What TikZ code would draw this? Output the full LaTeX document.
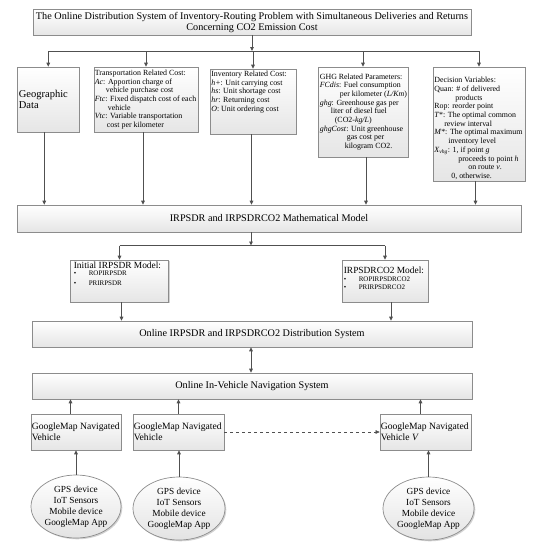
\documentclass[tikz,border=0pt]{standalone}
\usepackage{fontspec}
\setmainfont{Liberation Serif}
\usetikzlibrary{arrows.meta,shadows,shapes.geometric,calc}
\definecolor{linec}{HTML}{505050}
\definecolor{boxd}{HTML}{8C8C8C}
\tikzset{
  box/.style={rectangle, draw=boxd, line width=0.7pt, top color=white, bottom color=gray!20,
    drop shadow={shadow xshift=1.3pt, shadow yshift=-1.3pt, opacity=0.35}, inner sep=0pt},
  ellbox/.style={ellipse, draw=boxd, line width=0.7pt, top color=white, bottom color=gray!22,
    drop shadow={shadow xshift=1.3pt, shadow yshift=-1.3pt, opacity=0.35}, inner sep=0pt},
  conn/.style={draw=linec, line width=0.9pt},
  arr/.style={conn, -{Triangle[length=4pt,width=3.6pt]}},
  darr/.style={conn, {Triangle[length=4pt,width=3.6pt]}-{Triangle[length=4pt,width=3.6pt]}},
  dasharr/.style={draw=linec, line width=0.5pt, dashed, -{Triangle[length=4pt,width=3.6pt]}},
  txt/.style={inner sep=0pt, align=left, font=\fontsize{7.9}{8.7}\selectfont},
  bigtxt/.style={inner sep=0pt, align=center, font=\fontsize{10.2}{11.2}\selectfont},
  subttl/.style={inner sep=0pt, align=left, font=\fontsize{9.4}{11}\selectfont},
}
\begin{document}
\begin{tikzpicture}[x=1pt,y=-1pt]
\fill[white] (0,0) rectangle (534,550);
\useasboundingbox (0,0) rectangle (534,550);

% title
\node[box, bigtxt, minimum width=438pt, minimum height=25.5pt] (title) at (252,22.25)
  {The Online Distribution System of Inventory-Routing Problem with Simultaneous Deliveries and Returns\\Concerning CO2 Emission Cost};

% top row boxes
\node[box, minimum width=61.5pt, minimum height=65pt] (geo) at (48.25,99.5) {};
\node[box, minimum width=104pt, minimum height=65pt] (trans) at (146,99.5) {};
\node[box, minimum width=86pt, minimum height=65pt] (inv) at (253,101.5) {};
\node[box, minimum width=90pt, minimum height=90pt] (ghg) at (363,112) {};
\node[box, minimum width=92pt, minimum height=114pt] (dec) at (479,124) {};

\node[txt, anchor=west, font=\fontsize{10.5}{10.8}\selectfont] (geo-t) at ($(geo.west)+(1.5,0)$) {Geographic\\Data};

\node[txt, anchor=west] (trans-t) at ($(trans.west)+(1,0)$)
  {Transportation Related Cost:\\
   \textit{Ac}: Apportion charge of\\
   \hspace*{11pt}vehicle purchase cost\\
   \textit{Ftc}: Fixed dispatch cost of each\\
   \hspace*{13pt}vehicle\\
   \textit{Vtc}: Variable transportation\\
   \hspace*{12pt}cost per kilometer};

\node[txt, anchor=north west] (inv-t) at ($(inv.north west)+(1.5,2)$)
  {Inventory Related Cost:\\
   \textit{h+}: Unit carrying cost\\
   \textit{hs}: Unit shortage cost\\
   \textit{hr}: Returning cost\\
   \textit{O}: Unit ordering cost};

\node[txt, anchor=west] (ghg-t) at ($(ghg.west)+(2,0)$)
  {GHG Related Parameters:\\
   \textit{FCdis}: Fuel consumption\\
   \hspace*{20pt}per kilometer (\textit{L/Km})\\
   \textit{ghg}: Greenhouse gas per\\
   \hspace*{11pt}liter of diesel fuel\\
   \hspace*{15pt}(CO2-\textit{kg/L})\\
   \textit{ghgCost}: Unit greenhouse\\
   \hspace*{27pt}gas cost per\\
   \hspace*{25pt}kilogram CO2.};

\node[txt, anchor=west] (dec-t) at ($(dec.west)+(1.5,4.5)$)
  {Decision Variables:\\
   Quan: \# of delivered\\
   \hspace*{21pt}products\\
   Rop: reorder point\\
   \textit{T}*: The optimal common\\
   \hspace*{10pt}review interval\\
   \textit{M}*: The optimal maximum\\
   \hspace*{14pt}inventory level\\
   \textit{X}\textsubscript{\textit{vhg}}: 1, if point \textit{g}\\
   \hspace*{24pt}proceeds to point \textit{h}\\
   \hspace*{34pt}on route \textit{v}.\\
   \hspace*{17pt}0, otherwise.};

% model
\node[box, bigtxt, minimum width=504pt, minimum height=27pt] (model) at (269,218.5)
  {IRPSDR and IRPSDRCO2 Mathematical Model};

% model variants
\node[box, minimum width=98pt, minimum height=42pt] (init) at (119.5,281) {};
\node[box, minimum width=86pt, minimum height=42pt] (co2) at (385,281) {};
\node[subttl, anchor=north west] (init-t) at ($(init.north west)+(3.5,1.8)$) {Initial IRPSDR Model:};
\node[txt, anchor=north west, font=\fontsize{7}{9.8}\selectfont] (init-i) at ($(init-t.south west)+(0,2)$)
  {\textbullet\hspace{12.5pt}ROPIRPSDR\\ \textbullet\hspace{12.5pt}PRIRPSDR};
\node[subttl, anchor=north west] (co2-t) at ($(co2.north west)+(2,7.5)$) {IRPSDRCO2 Model:};
\node[txt, anchor=north west, font=\fontsize{7}{8.6}\selectfont] (co2-i) at ($(co2-t.south west)+(0,2)$)
  {\textbullet\hspace{12.5pt}ROPIRPSDRCO2\\ \textbullet\hspace{12.5pt}PRIRPSDRCO2};

% systems
\node[box, bigtxt, minimum width=440pt, minimum height=26pt] (dist) at (252,334)
  {Online IRPSDR and IRPSDRCO2 Distribution System};
\node[box, bigtxt, minimum width=440pt, minimum height=26pt] (nav) at (252,386)
  {Online In-Vehicle Navigation System};

% vehicles
\node[box, minimum width=90pt, minimum height=36pt] (v1) at (76,432) {};
\node[box, minimum width=91pt, minimum height=36pt] (v2) at (178.5,432) {};
\node[box, minimum width=91pt, minimum height=36pt] (v3) at (425.5,432) {};
\node[txt, anchor=west, font=\fontsize{9.6}{11.3}\selectfont] (v1-t) at ($(v1.west)+(1,0)$) {GoogleMap Navigated\\Vehicle};
\node[txt, anchor=west, font=\fontsize{9.6}{11.3}\selectfont] (v2-t) at ($(v2.west)+(1,0)$) {GoogleMap Navigated\\Vehicle};
\node[txt, anchor=west, font=\fontsize{9.6}{11.3}\selectfont] (v3-t) at ($(v3.west)+(1,0)$) {GoogleMap Navigated\\Vehicle \textit{V}};

% devices
\node[ellbox, minimum width=90pt, minimum height=63pt] (e1) at (76,506.5) {};
\node[ellbox, minimum width=92pt, minimum height=63pt] (e2) at (179,508.5) {};
\node[ellbox, minimum width=91pt, minimum height=63pt] (e3) at (428.5,508.5) {};
\node[inner sep=0pt, align=center, font=\fontsize{9.3}{11}\selectfont] (e1-t) at (e1.center) {GPS device\\IoT Sensors\\Mobile device\\GoogleMap App};
\node[inner sep=0pt, align=center, font=\fontsize{9.3}{11}\selectfont] (e2-t) at (e2.center) {GPS device\\IoT Sensors\\Mobile device\\GoogleMap App};
\node[inner sep=0pt, align=center, font=\fontsize{9.3}{11}\selectfont] (e3-t) at (e3.center) {GPS device\\IoT Sensors\\Mobile device\\GoogleMap App};

% connectors: title to top row
\coordinate (bus) at (252,51);
\draw[arr] (title.south) -- (bus);
\draw[conn] (geo.north |- bus) -- (dec.north |- bus);
\draw[arr] (geo.north |- bus) -- (geo.north);
\draw[arr] (trans.north |- bus) -- (trans.north);
\draw[arr] (inv.north |- bus) -- (inv.north);
\draw[arr] (ghg.north |- bus) -- (ghg.north);
\draw[arr] (dec.north |- bus) -- (dec.north);

% top row to model
\draw[arr] ($(geo.south)+(-4,0)$) -- ($(geo.south |- model.north)+(-4,0)$);
\draw[arr] ($(trans.south)+(-3,0)$) -- ($(trans.south |- model.north)+(-3,0)$);
\draw[arr] ($(inv.south)+(-1.5,0)$) -- ($(inv.south |- model.north)+(-1.5,0)$);
\draw[arr] ($(ghg.south)+(3,0)$) -- ($(ghg.south |- model.north)+(3,0)$);
\draw[arr] ($(dec.south)+(-3.5,0)$) -- ($(dec.south |- model.north)+(-3.5,0)$);

% model to variants
\coordinate (bus2) at (251,245.5);
\draw[arr] (bus2 |- model.south) -- (bus2);
\draw[conn] (init.north |- bus2) -- (co2.north |- bus2);
\draw[arr] (init.north |- bus2) -- (init.north);
\draw[arr] (co2.north |- bus2) -- (co2.north);

% variants to distribution
\draw[arr] ($(init.south)+(2,0)$) -- ($(init.south |- dist.north)+(2,0)$);
\draw[arr] ($(co2.south)+(6,0)$) -- ($(co2.south |- dist.north)+(6,0)$);

% distribution <-> navigation
\draw[darr] (dist.south -| bus2) -- (nav.north -| bus2);

% vehicles to navigation
\draw[arr] ($(v1.north)+(-5.5,0)$) -- ($(v1.north |- nav.south)+(-5.5,0)$);
\draw[arr] (v2.north) -- (v2.north |- nav.south);
\draw[arr] ($(v3.north)+(-5,0)$) -- ($(v3.north |- nav.south)+(-5,0)$);
\draw[dasharr] (v2.east) -- (v3.west);

% devices to vehicles
\draw[arr] (e1.north) -- (e1.north |- v1.south);
\draw[arr] (e2.north) -- (e2.north |- v2.south);
\draw[arr] (e3.north) -- (e3.north |- v3.south);
\end{tikzpicture}
\end{document}
